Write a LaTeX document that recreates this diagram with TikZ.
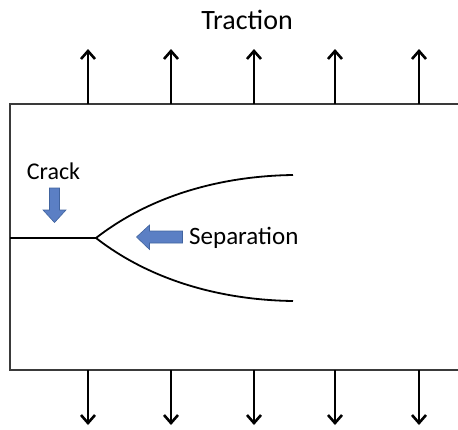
\documentclass[tikz,border=0pt]{standalone}
\usepackage{fontspec}
\setmainfont{Carlito}
\usetikzlibrary{arrows.meta}
\definecolor{blockblue}{HTML}{5B7FC4}
\definecolor{blockedge}{HTML}{41649F}
\definecolor{plategray}{HTML}{3A3A3A}
\tikzset{
  plate/.style={draw=plategray, line width=1.4pt},
  traction/.style={draw=black, line width=2.6pt, -{Straight Barb[length=8pt, width=14pt, line width=2.6pt]}},
  blockarrow/.style={fill=blockblue, draw=blockedge, line width=0.6pt},
  lbl/.style={font=\fontsize{25}{28}\selectfont, inner sep=0pt},
  crackline/.style={draw=black, line width=1.8pt}
}
\begin{document}
\begin{tikzpicture}[x=1pt, y=-1pt]
\useasboundingbox (0,0) rectangle (458,429);
% plate
\coordinate (tl) at (10,104);
\coordinate (tr) at (458,104);
\coordinate (bl) at (10,370);
\coordinate (br) at (458,370);
\draw[plate] (tr) -- (tl) -- (bl) -- (br);
% traction arrows
\foreach \x [count=\i] in {88,171,254,335,419} {
  \coordinate (ts\i) at (\x,104);
  \coordinate (te\i) at (\x,49);
  \coordinate (bs\i) at (\x,370);
  \coordinate (be\i) at (\x,425);
  \draw[traction] (ts\i) -- (te\i);
  \draw[traction] (bs\i) -- (be\i);
}
\node[lbl, font=\fontsize{28}{32}\selectfont] (traction) at (247,20) {Traction};
% crack
\coordinate (crackstart) at (10,238);
\coordinate (tip) at (96,238);
\coordinate (upend) at (293,175);
\coordinate (lowend) at (293,301);
\draw[crackline] (crackstart) -- (tip);
\draw[crackline] (tip) .. controls (150,196) and (220,176) .. (upend);
\draw[crackline] (tip) .. controls (150,280) and (220,300) .. (lowend);
% crack label and arrow
\node[lbl, font=\fontsize{24}{28}\selectfont] (crack) at (53.5,171) {Crack};
\draw[blockarrow] (49.5,188) -- (59.5,188) -- (59.5,210) -- (66,210) -- (54.5,222.5) -- (43,210) -- (49.5,210) -- cycle;
% separation label and arrow
\node[lbl, anchor=west] (sep) at (189,238) {Separation};
\draw[blockarrow] (182.5,231) -- (149.5,231) -- (149.5,225) -- (136.5,237) -- (149.5,249.5) -- (149.5,243) -- (182.5,243) -- cycle;
\end{tikzpicture}
\end{document}
